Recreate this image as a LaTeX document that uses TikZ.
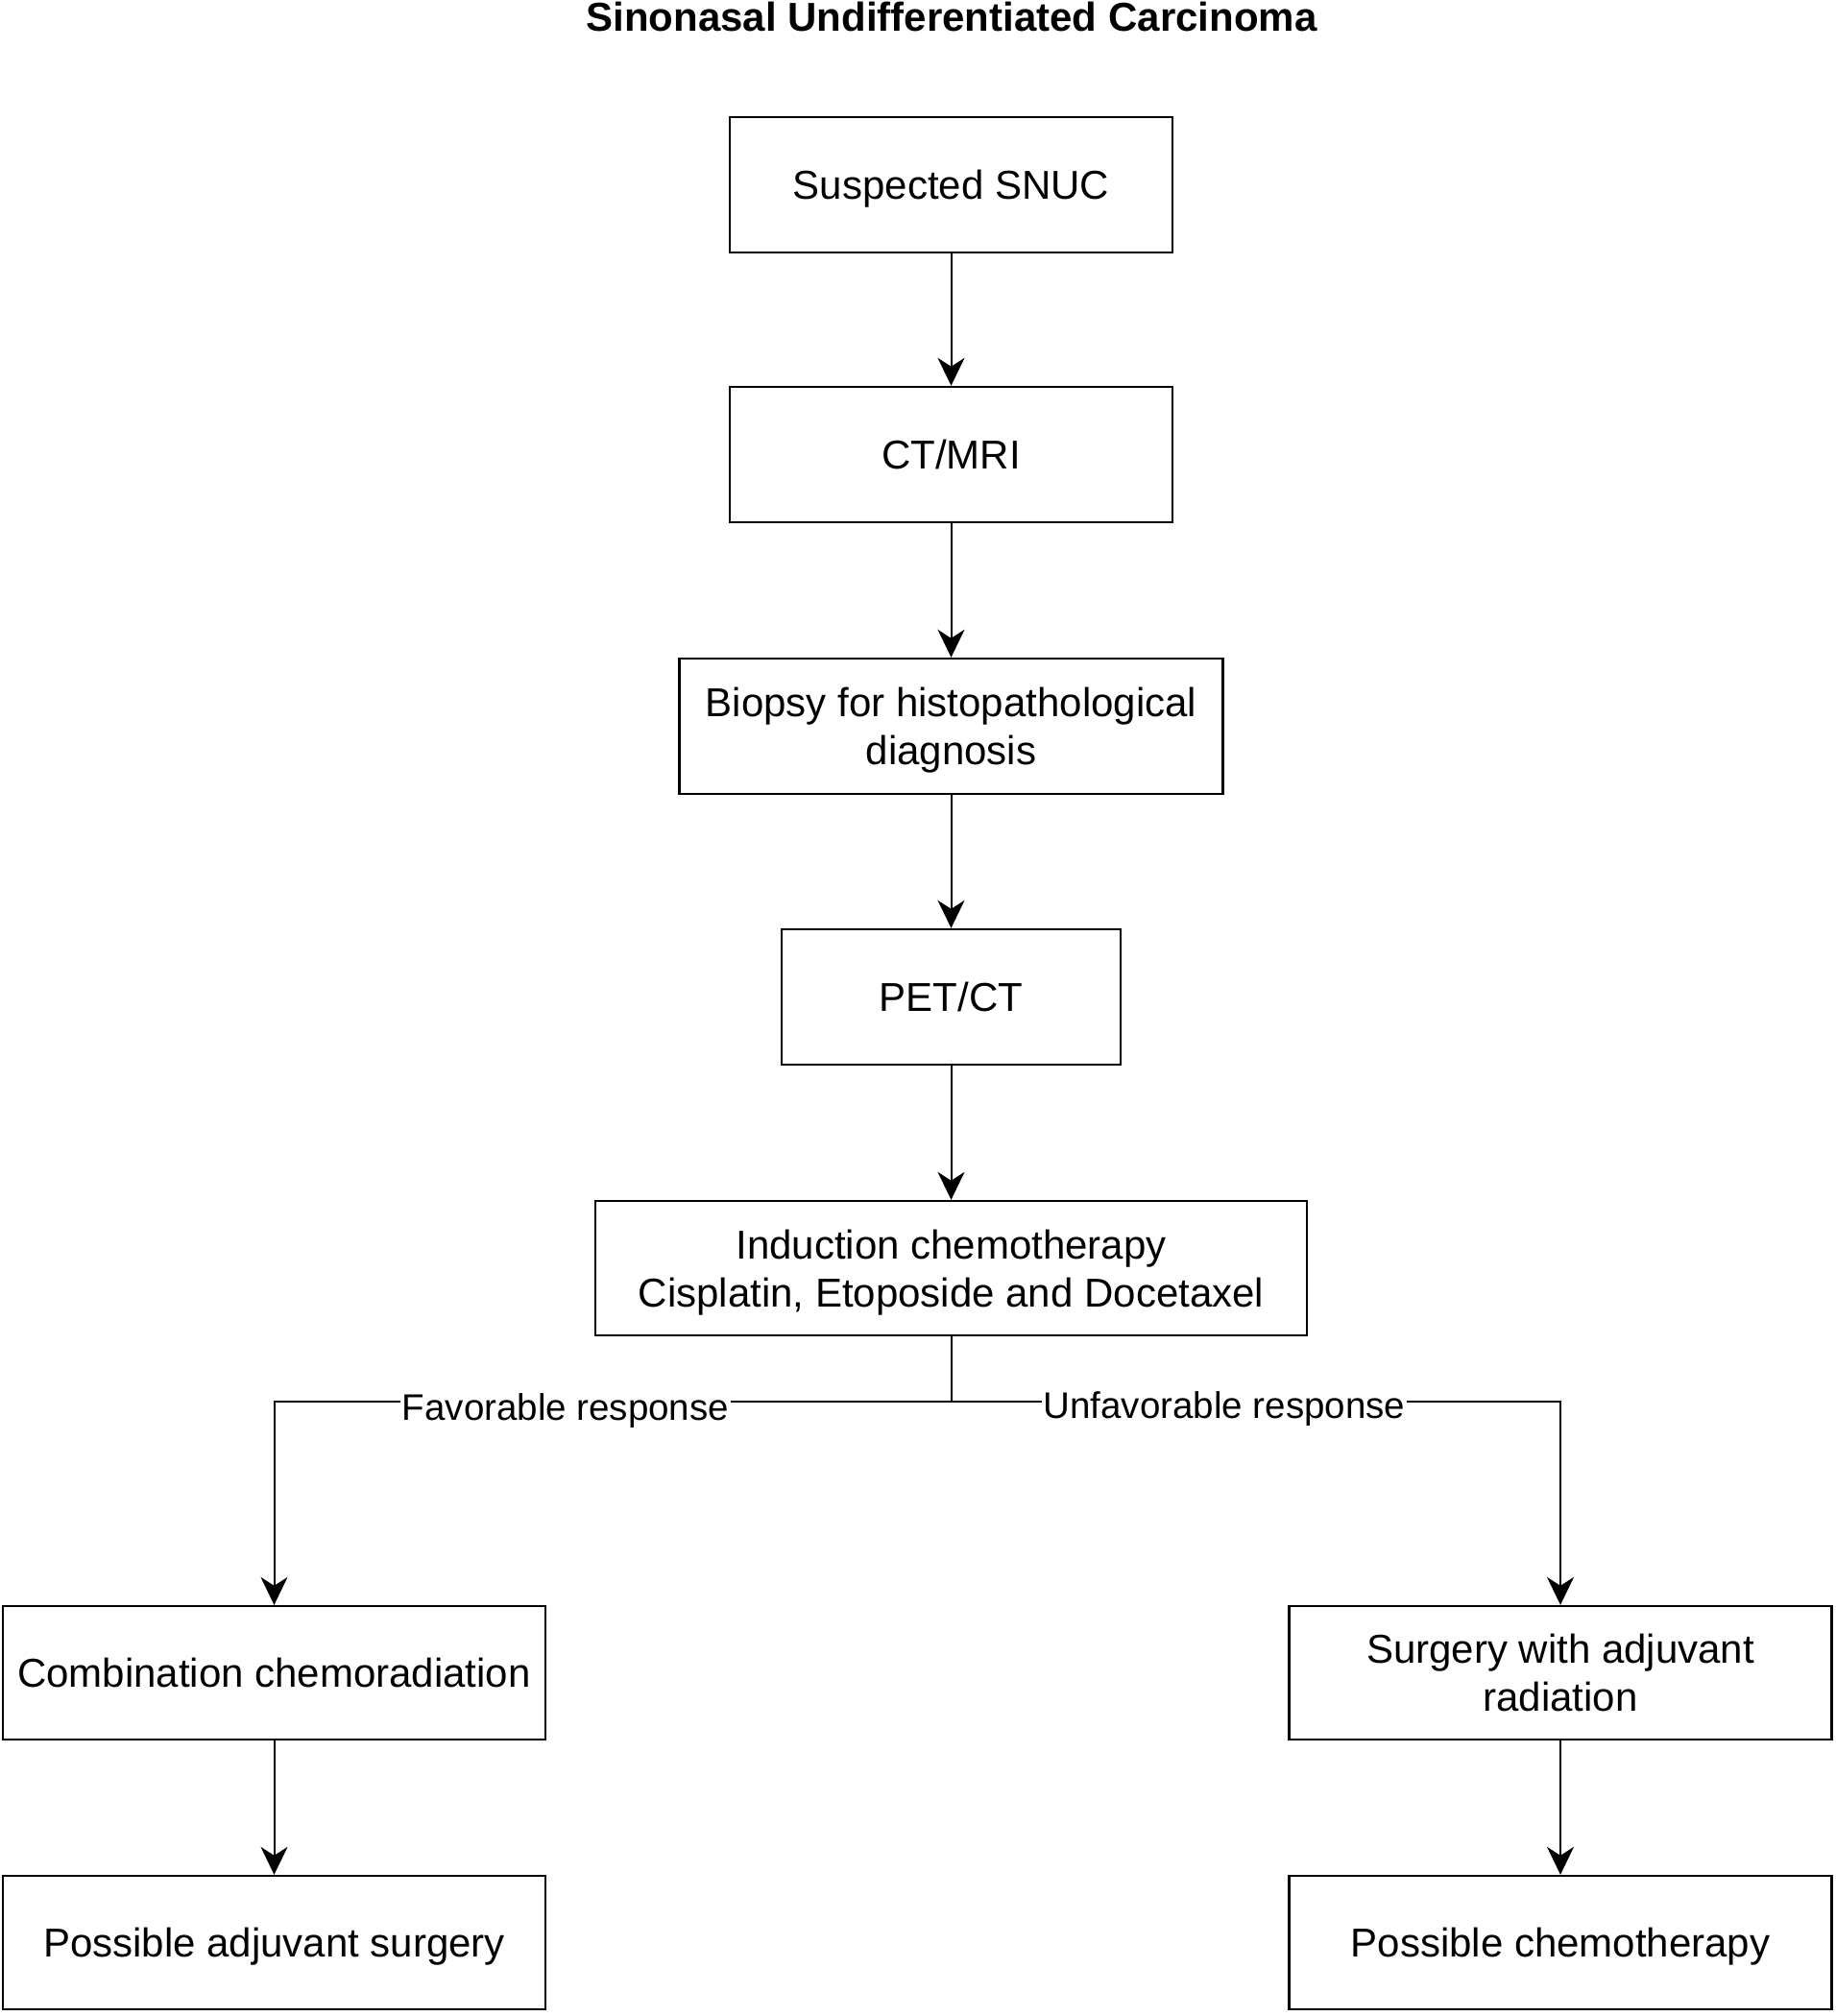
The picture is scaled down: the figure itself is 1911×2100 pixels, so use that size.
\documentclass[tikz,border=0pt]{standalone}
\usepackage{fontspec}
\setmainfont{Liberation Sans}
\usetikzlibrary{arrows.meta}
\tikzset{
  box/.style={draw, line width=2.4pt, rectangle, inner sep=0pt, align=center,
    font=\fontsize{42}{50}\selectfont, text depth=0pt},
  conn/.style={line width=2pt},
  arr/.style={conn, -{Stealth[length=29pt,width=28pt,inset=9pt]}},
  lbl/.style={fill=white, inner xsep=1.5pt, inner ysep=3pt,
    font=\fontsize{38.5}{46}\selectfont, text depth=0pt},
  ttl/.style={font=\bfseries\fontsize{42}{50}\selectfont, anchor=base, inner sep=0pt},
}
\begin{document}
\begin{tikzpicture}[x=1pt,y=-1pt]
\useasboundingbox (0,0) rectangle (1911,2100);
\node[ttl] (title) at (991,33) {Sinonasal Undifferentiated Carcinoma};

\node[box, minimum width=461pt, minimum height=141pt] (b1) at (990.5,192.5) {Suspected SNUC};
\node[box, minimum width=461pt, minimum height=141pt] (b2) at (990.5,473.5) {CT/MRI};
\node[box, minimum width=566pt, minimum height=141pt] (b3) at (990.5,756.5) {Biopsy for histopathological\\diagnosis};
\node[box, minimum width=353pt, minimum height=141pt] (b4) at (990.5,1038.5) {PET/CT};
\node[box, minimum width=741pt, minimum height=140pt] (b5) at (990.5,1321) {Induction chemotherapy\\Cisplatin, Etoposide and Docetaxel};
\node[box, minimum width=565pt, minimum height=139pt] (b6) at (285.5,1742.5) {Combination chemoradiation};
\node[box, minimum width=565pt, minimum height=139pt] (b7) at (1625,1742.5) {Surgery with adjuvant\\radiation};
\node[box, minimum width=565pt, minimum height=139pt] (b8) at (285.5,2023.5) {Possible adjuvant surgery};
\node[box, minimum width=565pt, minimum height=139pt] (b9) at (1625,2023.5) {Possible chemotherapy};

\coordinate (j) at (990.5,1460);

\draw[arr] (b1.south) -- (b2.north);
\draw[arr] (b2.south) -- (b3.north);
\draw[arr] (b3.south) -- (b4.north);
\draw[arr] (b4.south) -- (b5.north);
\draw[conn] (b5.south) -- (j);
\draw[arr] (j) -| (b6.north);
\draw[arr] (j) -| (b7.north);
\draw[arr] (b6.south) -- (b8.north);
\draw[arr] (b7.south) -- (b9.north);

\node[lbl] (fav) at (589,1465.5) {Favorable response};
\node[lbl] (unfav) at (1275,1463.5) {Unfavorable response};
\end{tikzpicture}
\end{document}
